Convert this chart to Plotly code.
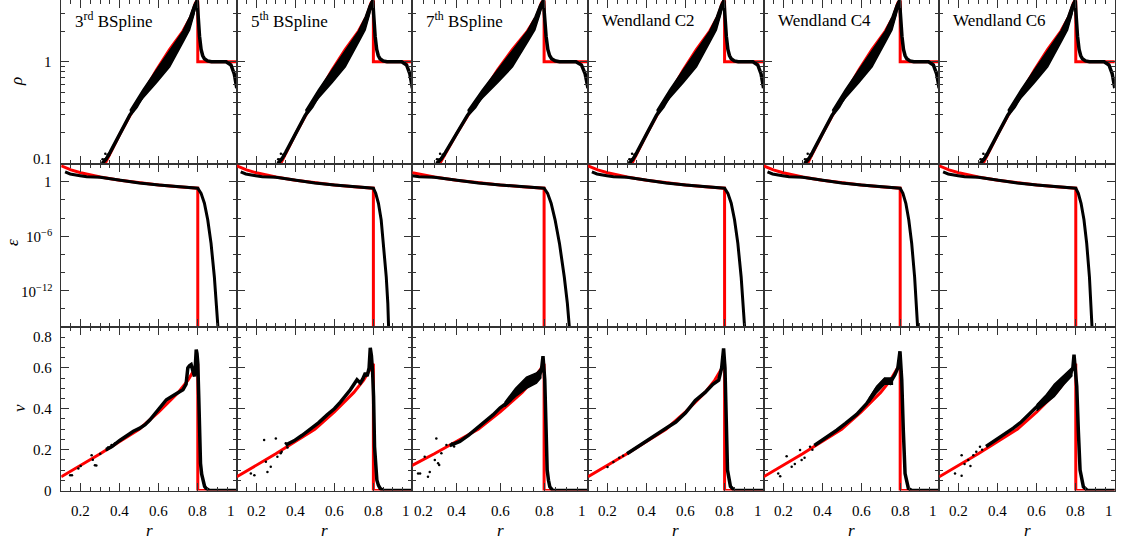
import plotly.graph_objects as go
import math

# ---------------- data ----------------
kernels = ["3<sup>rd</sup> BSpline", "5<sup>th</sup> BSpline", "7<sup>th</sup> BSpline",
           "Wendland C2", "Wendland C4", "Wendland C6"]
r_lo = [0.1, 0.1, 0.2, 0.1, 0.1, 0.1]
r_hi = 1.0
r_ticks = [0.2, 0.4, 0.6, 0.8, 1.0]

# analytic (Sedov) solution
exact_rho_r = [0.30, 0.324, 0.341, 0.401, 0.452, 0.528, 0.588, 0.656, 0.724, 0.766, 0.788, 0.800, 0.800, 1.0]
exact_rho   = [0.08, 0.100, 0.115, 0.195, 0.295, 0.525, 0.83, 1.32, 2.0, 2.8, 3.8, 4.0, 1.0, 1.0]
exact_eps_r = [0.1, 0.15, 0.2, 0.25, 0.3, 0.4, 0.5, 0.6, 0.7, 0.8, 0.8]
exact_eps   = [56, 20, 9.5, 5.2, 3.2, 1.4, 0.71, 0.43, 0.28, 0.19, 1e-18]
exact_v_r   = [0.1, 0.2, 0.3, 0.4, 0.5, 0.6, 0.7, 0.75, 0.8, 0.8, 1.0]
exact_v     = [0.067, 0.122, 0.18, 0.24, 0.30, 0.385, 0.48, 0.54, 0.62, 0.0, 0.0]

# simulation density: centre line, thick band edges, scattered low-r particles
sim_rho_r = [0.31, 0.33, 0.35, 0.384, 0.42, 0.452, 0.485, 0.519, 0.55, 0.588, 0.62, 0.656, 0.69, 0.724,
             0.758, 0.78, 0.797, 0.801, 0.805, 0.809, 0.817, 0.825, 0.834, 0.85, 0.87,
             0.945, 0.97, 0.987, 1.0]
sim_rho   = [0.1, 0.11, 0.128, 0.17, 0.225, 0.3, 0.36, 0.47, 0.56, 0.7, 0.84, 1.05, 1.3, 1.75,
             2.35, 3.2, 4.0, 3.0, 2.1, 1.78, 1.32, 1.15, 1.07, 1.02, 1.0,
             1.0, 0.93, 0.76, 0.55]
sim_rho_band_r  = [0.452, 0.519, 0.588, 0.656, 0.724, 0.758, 0.78, 0.795]
sim_rho_band_lo = [0.30, 0.44, 0.62, 0.89, 1.55, 2.05, 2.9, 3.9]
sim_rho_band_hi = [0.33, 0.53, 0.83, 1.29, 2.0, 2.75, 3.6, 4.05]
sim_rho_dots_r = [0.305, 0.315, 0.322, 0.33, 0.338, 0.345, 0.312, 0.326]
sim_rho_dots   = [0.095, 0.102, 0.11, 0.112, 0.122, 0.12, 0.11, 0.125]

# simulation internal energy
sim_eps_head_r = [0.12, 0.146, 0.197, 0.231, 0.3, 0.4, 0.5, 0.6, 0.7]
sim_eps_head   = [12, 7.0, 4.6, 3.5, 3.0, 1.4, 0.71, 0.43, 0.28]
sim_eps_tail   = [0.19, 0.052, 4.2e-3, 6.3e-5, 1.6e-7, 3.2e-11, 4e-14, 1e-16, 1e-18]
sim_eps_tail_r = [
    [0.80, 0.817, 0.834, 0.851, 0.868, 0.885, 0.897, 0.906, 0.91],
    [0.80, 0.812, 0.826, 0.840, 0.852, 0.866, 0.874, 0.878, 0.881],
    [0.80, 0.816, 0.832, 0.850, 0.870, 0.892, 0.906, 0.915, 0.92],
    [0.80, 0.817, 0.834, 0.851, 0.868, 0.885, 0.896, 0.905, 0.909],
    [0.80, 0.814, 0.829, 0.844, 0.859, 0.874, 0.884, 0.891, 0.895],
    [0.80, 0.813, 0.827, 0.842, 0.856, 0.870, 0.879, 0.884, 0.888],
]

# simulation velocity (band centre) per kernel
sim_v_r = [
    [0.33, 0.36, 0.40, 0.435, 0.47, 0.503, 0.53, 0.554, 0.58, 0.605, 0.639, 0.681, 0.724, 0.74, 0.749, 0.757,
     0.766, 0.775, 0.783, 0.788, 0.792, 0.796, 0.8, 0.805, 0.809, 0.814, 0.82, 0.826, 0.835, 0.843, 0.86, 1.0],
    [0.35, 0.393, 0.435, 0.478, 0.52, 0.563, 0.6, 0.631, 0.66, 0.682, 0.716, 0.733, 0.745, 0.759, 0.768,
     0.778, 0.784, 0.79, 0.796, 0.801, 0.806, 0.812, 0.818, 0.826, 0.835, 0.85, 1.0],
    [0.37, 0.416, 0.455, 0.492, 0.53, 0.567, 0.6, 0.644, 0.674, 0.7, 0.72, 0.75, 0.773, 0.788, 0.795,
     0.803, 0.808, 0.814, 0.82, 0.826, 0.84, 1.0],
    [0.3, 0.35, 0.4, 0.45, 0.5, 0.55, 0.6, 0.65, 0.7, 0.74, 0.77, 0.785, 0.795, 0.802, 0.808, 0.815,
     0.83, 0.85, 1.0],
    [0.36, 0.389, 0.43, 0.475, 0.52, 0.577, 0.628, 0.68, 0.722, 0.748, 0.773, 0.788, 0.799, 0.808, 0.816,
     0.825, 0.842, 0.86, 1.0],
    [0.34, 0.395, 0.44, 0.48, 0.52, 0.565, 0.6, 0.634, 0.685, 0.736, 0.77, 0.785, 0.791, 0.798, 0.805,
     0.813, 0.822, 0.839, 0.86, 1.0],
]
sim_v = [
    [0.2, 0.215, 0.245, 0.27, 0.29, 0.305, 0.322, 0.345, 0.375, 0.403, 0.444, 0.468, 0.493, 0.52, 0.6, 0.61,
     0.616, 0.585, 0.558, 0.62, 0.689, 0.67, 0.624, 0.46, 0.296, 0.133, 0.08, 0.05, 0.02, 0.01, 0.0, 0.0],
    [0.222, 0.243, 0.27, 0.3, 0.332, 0.37, 0.4, 0.432, 0.465, 0.493, 0.542, 0.526, 0.545, 0.575, 0.56,
     0.6, 0.698, 0.66, 0.58, 0.46, 0.214, 0.12, 0.05, 0.025, 0.01, 0.0, 0.0],
    [0.22, 0.24, 0.27, 0.303, 0.335, 0.37, 0.405, 0.44, 0.49, 0.51, 0.526, 0.542, 0.55, 0.591, 0.657,
     0.542, 0.296, 0.1, 0.05, 0.018, 0.0, 0.0],
    [0.18, 0.21, 0.24, 0.272, 0.305, 0.335, 0.38, 0.44, 0.48, 0.52, 0.54, 0.6, 0.695, 0.6, 0.3, 0.1,
     0.02, 0.0, 0.0],
    [0.22, 0.238, 0.265, 0.295, 0.328, 0.372, 0.425, 0.5, 0.542, 0.526, 0.567, 0.6, 0.681, 0.542, 0.296,
     0.083, 0.01, 0.0, 0.0],
    [0.215, 0.25, 0.28, 0.305, 0.335, 0.375, 0.41, 0.444, 0.493, 0.542, 0.567, 0.6, 0.665, 0.6, 0.509,
     0.296, 0.1, 0.018, 0.0, 0.0],
]
# thick scatter bands in velocity just behind the shock (empty = none)
sim_v_band_r = [[], [], [0.62, 0.67, 0.72, 0.765, 0.785], [], [0.64, 0.68, 0.72, 0.76],
                [0.6, 0.65, 0.69, 0.74, 0.78]]
sim_v_band_lo = [[], [], [0.41, 0.46, 0.5, 0.525, 0.55], [], [0.43, 0.48, 0.52, 0.52],
                 [0.39, 0.43, 0.46, 0.52, 0.56]]
sim_v_band_hi = [[], [], [0.43, 0.5, 0.555, 0.575, 0.595], [], [0.45, 0.51, 0.55, 0.55],
                 [0.42, 0.47, 0.52, 0.565, 0.6]]
sim_v_dots_r = [
    [0.146, 0.155, 0.188, 0.2, 0.256, 0.262, 0.273, 0.28, 0.3, 0.333, 0.34, 0.358, 0.375],
    [0.172, 0.19, 0.24, 0.249, 0.257, 0.274, 0.3, 0.308, 0.325, 0.33, 0.351, 0.36],
    [0.226, 0.235, 0.256, 0.271, 0.279, 0.302, 0.309, 0.317, 0.322, 0.332, 0.355, 0.38, 0.39],
    [0.2, 0.23, 0.26, 0.28],
    [0.175, 0.185, 0.218, 0.244, 0.26, 0.287, 0.295, 0.31, 0.338, 0.35],
    [0.181, 0.215, 0.215, 0.23, 0.249, 0.26, 0.275, 0.29, 0.309, 0.32],
]
sim_v_dots = [
    [0.075, 0.075, 0.108, 0.12, 0.173, 0.15, 0.124, 0.122, 0.18, 0.198, 0.21, 0.223, 0.23],
    [0.083, 0.075, 0.247, 0.141, 0.091, 0.116, 0.255, 0.165, 0.182, 0.19, 0.231, 0.21],
    [0.083, 0.083, 0.165, 0.067, 0.091, 0.149, 0.255, 0.133, 0.125, 0.182, 0.223, 0.23, 0.215],
    [0.115, 0.14, 0.16, 0.17],
    [0.083, 0.07, 0.168, 0.116, 0.13, 0.198, 0.149, 0.16, 0.214, 0.2],
    [0.083, 0.173, 0.072, 0.13, 0.149, 0.12, 0.173, 0.19, 0.214, 0.2],
]

# ---------------- layout geometry (pixels) ----------------
W, H = 1123, 541
FONT = "Liberation Serif, Tinos, Times New Roman, DejaVu Serif, serif"
col_w = 175.6
col_left = [61.2 + col_w * i for i in range(6)]
row_edges = [0.0, 163.5, 327.0, 490.5]
y_ranges = [[-1.0, math.log10(4.04)], [-16, 2], [0, 0.8]]
RED = "#ff0000"
AX = "#333333"

fig = go.Figure()


def ax_id(row, col):
    k = row * 6 + col + 1
    return ("" if k == 1 else str(k))


for c in range(6):
    for row in range(3):
        s = ax_id(row, c)
        xa, ya = "x" + s, "y" + s
        if row == 0:
            fig.add_trace(go.Scatter(x=exact_rho_r, y=exact_rho, mode="lines",
                                     line=dict(color=RED, width=3), xaxis=xa, yaxis=ya))
            fig.add_trace(go.Scatter(x=sim_rho_band_r + sim_rho_band_r[::-1],
                                     y=sim_rho_band_lo + sim_rho_band_hi[::-1],
                                     mode="lines", fill="toself", fillcolor="black",
                                     line=dict(color="black", width=1.5), xaxis=xa, yaxis=ya))
            fig.add_trace(go.Scatter(x=sim_rho_r, y=sim_rho, mode="lines",
                                     line=dict(color="black", width=3.5), xaxis=xa, yaxis=ya))
            fig.add_trace(go.Scatter(x=sim_rho_dots_r, y=sim_rho_dots, mode="markers",
                                     marker=dict(color="black", size=2.5), xaxis=xa, yaxis=ya))
        elif row == 1:
            fig.add_trace(go.Scatter(x=exact_eps_r, y=exact_eps, mode="lines",
                                     line=dict(color=RED, width=3), xaxis=xa, yaxis=ya))
            fig.add_trace(go.Scatter(x=sim_eps_head_r + sim_eps_tail_r[c], y=sim_eps_head + sim_eps_tail,
                                     mode="lines", line=dict(color="black", width=3), xaxis=xa, yaxis=ya))
        else:
            fig.add_trace(go.Scatter(x=exact_v_r, y=exact_v, mode="lines",
                                     line=dict(color=RED, width=3), xaxis=xa, yaxis=ya))
            if sim_v_band_r[c]:
                fig.add_trace(go.Scatter(x=sim_v_band_r[c] + sim_v_band_r[c][::-1],
                                         y=sim_v_band_lo[c] + sim_v_band_hi[c][::-1],
                                         mode="lines", fill="toself", fillcolor="black",
                                         line=dict(color="black", width=1.5), xaxis=xa, yaxis=ya))
            fig.add_trace(go.Scatter(x=sim_v_r[c], y=sim_v[c], mode="lines",
                                     line=dict(color="black", width=3.5), xaxis=xa, yaxis=ya))
            fig.add_trace(go.Scatter(x=sim_v_dots_r[c], y=sim_v_dots[c], mode="markers",
                                     marker=dict(color="black", size=2.5), xaxis=xa, yaxis=ya))

        x0 = col_left[c] / W
        x1 = (col_left[c] + col_w) / W
        y0 = 1 - row_edges[row + 1] / H
        y1 = 1 - row_edges[row] / H
        common = dict(showline=True, linecolor=AX, linewidth=1, mirror="allticks",
                      ticks="inside", ticklen=8, tickwidth=1, tickcolor=AX,
                      showgrid=False, zeroline=False, showticklabels=False)
        xkey = "xaxis" + s
        ykey = "yaxis" + s
        fig.layout[xkey] = dict(domain=[x0, x1], anchor="y" + s, range=[r_lo[c], r_hi],
                                tickmode="array", tickvals=r_ticks,
                                minor=dict(dtick=0.05, tick0=0, ticklen=4, ticks="inside", tickcolor=AX),
                                **common)
        if row == 0:
            ymaj = [0.1, 1, 10]
            ymin = [0.2, 0.3, 0.4, 0.5, 0.6, 0.7, 0.8, 0.9, 2, 3, 4]
            fig.layout[ykey] = dict(domain=[y0, y1], anchor="x" + s, type="log", range=y_ranges[0],
                                    tickmode="array", tickvals=ymaj,
                                    minor=dict(tickmode="array", tickvals=ymin, ticklen=4,
                                               ticks="inside", tickcolor=AX), **common)
        elif row == 1:
            ymaj = [1, 1e-6, 1e-12]
            ymin = [1e2, 1e-2, 1e-4, 1e-8, 1e-10, 1e-14, 1e-16]
            fig.layout[ykey] = dict(domain=[y0, y1], anchor="x" + s, type="log", range=y_ranges[1],
                                    tickmode="array", tickvals=ymaj,
                                    minor=dict(tickmode="array", tickvals=ymin, ticklen=4,
                                               ticks="inside", tickcolor=AX), **common)
        else:
            fig.layout[ykey] = dict(domain=[y0, y1], anchor="x" + s, range=y_ranges[2],
                                    tickmode="array", tickvals=[0, 0.2, 0.4, 0.6, 0.8],
                                    minor=dict(dtick=0.05, tick0=0, ticklen=4, ticks="inside", tickcolor=AX),
                                    **common)

ann = []
tick_font = dict(family=FONT, size=15, color="black")
# x tick labels on bottom row
for c in range(6):
    s = ax_id(2, c)
    for t in r_ticks:
        if t < r_lo[c] - 1e-9:
            continue
        anchor = "center"
        if abs(t - r_hi) < 1e-9:
            anchor = "right"
        elif abs(t - r_lo[c]) < 1e-9:
            anchor = "left"
        ann.append(dict(x=t, xref="x" + s, y=1 - 511 / H, yref="paper", text=f"{t:g}",
                        showarrow=False, xanchor=anchor, yanchor="middle", font=tick_font))
    ann.append(dict(x=(col_left[c] + col_w / 2) / W, xref="paper", y=1 - 530 / H, yref="paper",
                    text="<i>r</i>", showarrow=False, xanchor="center", yanchor="middle",
                    font=dict(family=FONT, size=17, color="black")))
    ann.append(dict(x=(col_left[c] + 12) / W, xref="paper", y=1 - 20 / H, yref="paper",
                    text=kernels[c], showarrow=False, xanchor="left", yanchor="middle",
                    font=dict(family=FONT, size=17, color="black")))

# y tick labels on first column
lab_x = (col_left[0] - 7) / W
ann.append(dict(x=lab_x, xref="paper", y=math.log10(0.1), yref="y", text="0.1", showarrow=False,
                xanchor="right", yanchor="bottom", yshift=-5, font=tick_font))
ann.append(dict(x=lab_x, xref="paper", y=0, yref="y", text="1", showarrow=False,
                xanchor="right", yanchor="middle", font=tick_font))
for val, txt in [(0, "1"), (-6, "10<sup>−6</sup>"), (-12, "10<sup>−12</sup>")]:
    ann.append(dict(x=lab_x, xref="paper", y=val, yref="y7", text=txt, showarrow=False,
                    xanchor="right", yanchor="middle", font=tick_font))
for val, txt, ya in [(0, "0", "middle"), (0.2, "0.2", "middle"), (0.4, "0.4", "middle"),
                     (0.6, "0.6", "middle"), (0.8, "0.8", "top")]:
    ann.append(dict(x=lab_x, xref="paper", y=val, yref="y13", text=txt, showarrow=False,
                    xanchor="right", yanchor=ya, font=tick_font))

# y titles
for txt, px, py in [("ρ", 16, 82), ("ε", 12, 243), ("v", 19, 408)]:
    ann.append(dict(x=px / W, xref="paper", y=1 - py / H, yref="paper", text=f"<i>{txt}</i>",
                    showarrow=False, textangle=-90, xanchor="center", yanchor="middle",
                    font=dict(family=FONT, size=17, color="black")))

fig.update_layout(width=W, height=H, margin=dict(l=0, r=0, t=0, b=0),
                  paper_bgcolor="white", plot_bgcolor="white", showlegend=False,
                  annotations=ann, font=dict(family=FONT))

fig.write_html("out.html", config={"displayModeBar": False},
               post_script="document.body.style.margin='0';document.body.style.overflow='hidden';")
